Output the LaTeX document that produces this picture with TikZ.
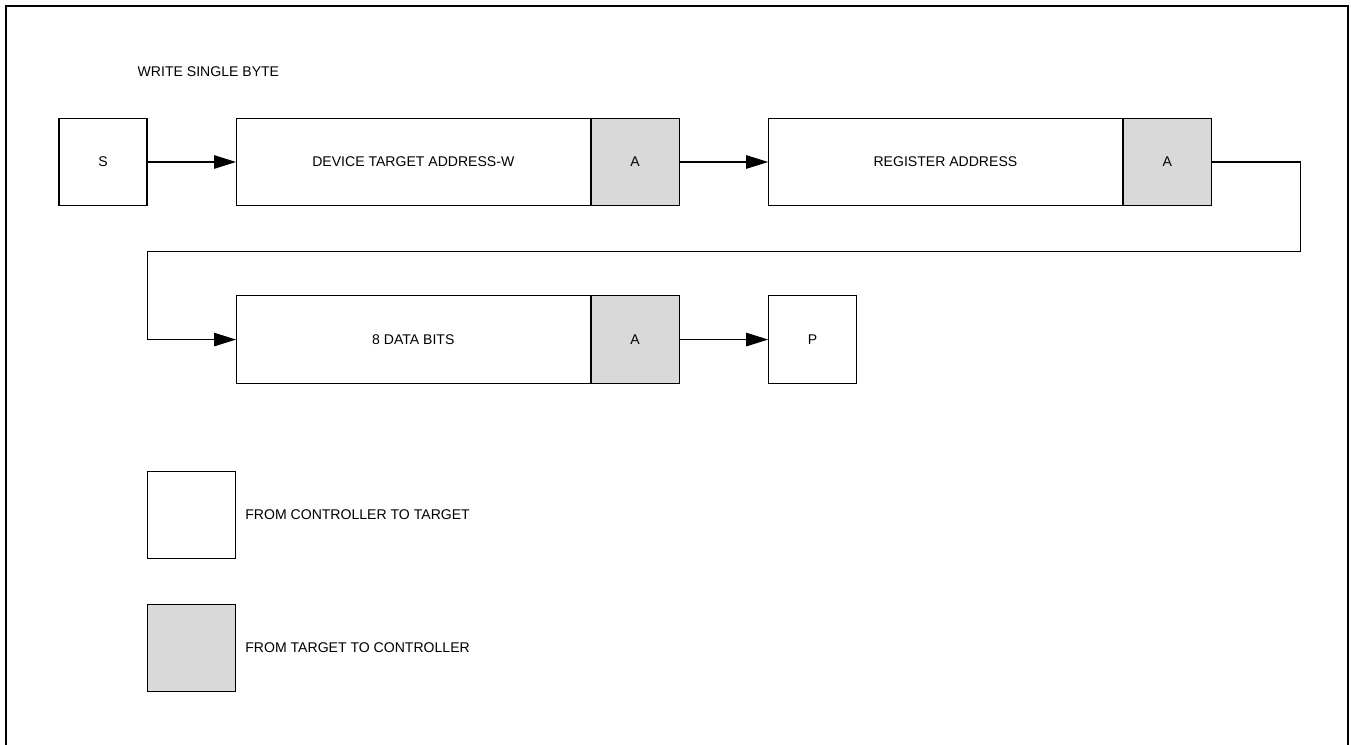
\documentclass[tikz,border=0pt]{standalone}
\usepackage{fontspec}
\setmainfont{Liberation Sans}
\usetikzlibrary{positioning,arrows.meta}
\definecolor{ackgray}{HTML}{D9D9D9}
\begin{document}
\begin{tikzpicture}[
    font=\fontsize{8}{10}\selectfont,
    field/.style={draw, line width=0.6pt, minimum height=1.75cm, inner sep=0pt},
    bitbox/.style={field, minimum width=1.76cm},
    bytebox/.style={field, minimum width=7.07cm},
    ackbox/.style={bitbox, fill=ackgray},
    flow/.style={-{Triangle[length=0.44cm,width=0.27cm]}, line width=0.6pt}
  ]
    \useasboundingbox (0,0) rectangle (27.02,-14.9);
    % open frame, no bottom edge
    \draw[line width=1pt] (0.12,-14.9) -- (0.12,-0.12) -- (26.96,-0.12) -- (26.96,-14.9);

    \node[anchor=west] (title) at (2.63,-1.44) {WRITE SINGLE BYTE};

    % first row
    \node[bitbox] (S) at (2.06,-3.24) {S};
    \node[bytebox, right=1.77cm of S] (devaddr) {DEVICE TARGET ADDRESS-W};
    \node[ackbox, right=0pt of devaddr] (ack1) {A};
    \node[bytebox, right=1.77cm of ack1] (regaddr) {REGISTER ADDRESS};
    \node[ackbox, right=0pt of regaddr] (ack2) {A};

    % second row
    \node[bytebox, below=1.78cm of devaddr] (data) {8 DATA BITS};
    \node[ackbox, right=0pt of data] (ack3) {A};
    \node[bitbox, right=1.77cm of ack3] (P) {P};

    \draw[flow] (S) -- (devaddr);
    \draw[flow] (ack1) -- (regaddr);
    \coordinate (wrapR) at ([xshift=1.77cm, yshift=-0.90cm] ack2.south east);
    \coordinate (wrapL) at ([xshift=-1.77cm] data.west);
    \draw[flow] (ack2.east) -| (wrapR) -| (wrapL) -- (data.west);
    \draw[flow] (ack3) -- (P);

    % legend
    \node[bitbox] (keyctrl) at (3.83,-10.30) {};
    \node[right=0.18cm of keyctrl, inner sep=0pt] (keyctrltext) {FROM CONTROLLER TO TARGET};
    \node[ackbox, below=0.89cm of keyctrl] (keytgt) {};
    \node[right=0.18cm of keytgt, inner sep=0pt] (keytgttext) {FROM TARGET TO CONTROLLER};
\end{tikzpicture}
\end{document}
